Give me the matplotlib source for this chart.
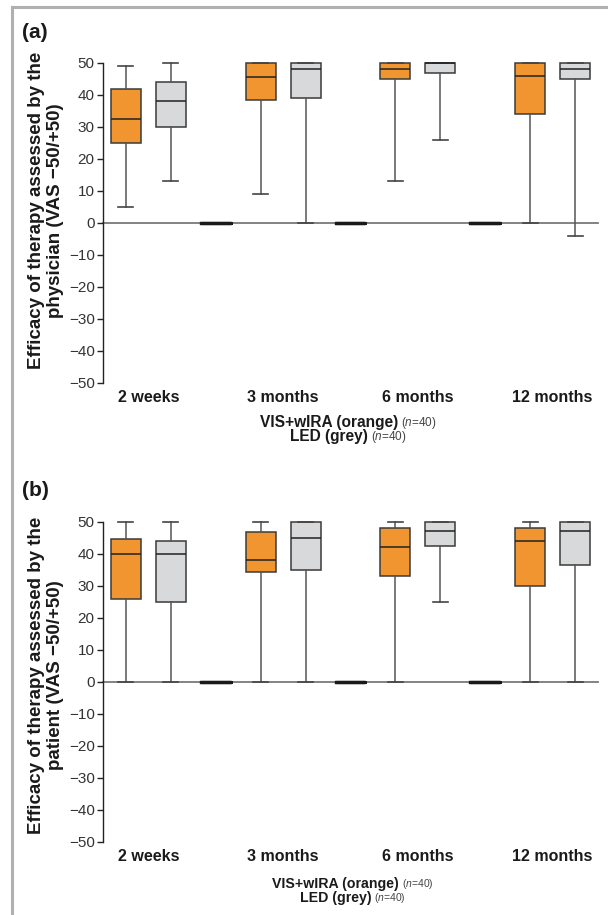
import numpy as np
import matplotlib
matplotlib.use("Agg")
import matplotlib.pyplot as plt
from matplotlib.lines import Line2D

plt.rcParams['font.family'] = ['Liberation Sans', 'DejaVu Sans']
plt.rcParams['mathtext.fontset'] = 'custom'
plt.rcParams['mathtext.it'] = 'Liberation Sans:italic'
plt.rcParams['mathtext.rm'] = 'Liberation Sans'

# time points
groups = ['2 weeks', '3 months', '6 months', '12 months']

# box stats per time point: [min, q1, median, q3, max]
phys_vis = [[5, 25, 32.5, 42, 49], [9, 38.3, 45.5, 50, 50],
            [13, 45, 48, 50, 50], [0, 34, 46, 50, 50]]
phys_led = [[13, 30, 38, 44, 50], [0, 39, 48, 50, 50],
            [26, 47, 50, 50, 50], [-4, 45, 48, 50, 50]]
pat_vis = [[0, 26, 40, 44.6, 50], [0, 34.3, 38, 46.7, 50],
           [0, 33, 42, 48, 50], [0, 30, 44, 48, 50]]
pat_led = [[0, 25, 40, 44, 50], [0, 35, 45, 50, 50],
           [25, 42.5, 47, 50, 50], [0, 36.5, 47, 50, 50]]
spacer = [0, 0, 0, 0, 0]   # empty slot between time points

ylabels = ['Efficacy of therapy assessed by the\nphysician (VAS \u221250/+50)',
           'Efficacy of therapy assessed by the\npatient (VAS \u221250/+50)']

W, H = 608, 915
ORANGE = '#F0952F'
GREY = '#D8D9DB'
EDGE = '#3a3a3a'


def to_stats(rows):
    return [dict(whislo=r[0], q1=r[1], med=r[2], q3=r[3], whishi=r[4], fliers=[]) for r in rows]


def draw_boxes(ax, rows, pos, color):
    ax.bxp(to_stats(rows), positions=pos, widths=0.667, patch_artist=True,
           showfliers=False, manage_ticks=False,
           boxprops=dict(facecolor=color, edgecolor=EDGE, linewidth=1.1),
           medianprops=dict(color='#222222', linewidth=1.1),
           whiskerprops=dict(color='#555555', linewidth=1.1),
           capprops=dict(color='#444444', linewidth=1.2),
           capwidths=0.33)


def two_part(fig, xc, y, bold, small, bsize, ssize):
    t1 = fig.text(0, y, bold, weight='bold', size=bsize, ha='left', va='center', color='#1a1a1a')
    t2 = fig.text(0, y, small, size=ssize, ha='left', va='center', color='#444444')
    r = fig.canvas.get_renderer()
    w1 = t1.get_window_extent(r).width
    w2 = t2.get_window_extent(r).width
    x0 = xc - (w1 + 3 + w2) / 2
    t1.set_x(x0 / W)
    t2.set_x((x0 + w1 + 3) / W)


fig = plt.figure(figsize=(W / 100, H / 100), dpi=100)

panels = [(phys_vis, phys_led, 63, '(a)', 33, 0.54, [395, 423, 437], 11.2, 348),
          (pat_vis, pat_led, 521.7, '(b)', 491, 0.52, [853, 884, 898], 10.2, 353)]

for k, (vis, led, top, tag, tag_y, lab_y, text_y, fsize, xc) in enumerate(panels):
    ax = fig.add_axes([103 / W, 1 - (top + 320) / H, 495 / W, 320 / H])
    n = len(groups)
    pos_vis = [3 * i for i in range(n)]
    pos_led = [3 * i + 1 for i in range(n)]
    pos_sp = [3 * i + 2 for i in range(n - 1)]

    ax.axhline(0, color='#7a7a7a', linewidth=1.3, zorder=0)
    draw_boxes(ax, vis, pos_vis, ORANGE)
    draw_boxes(ax, led, pos_led, GREY)
    ax.bxp(to_stats([spacer] * len(pos_sp)), positions=pos_sp, widths=0.667,
           showfliers=False, manage_ticks=False, showcaps=False,
           boxprops=dict(color='#1a1a1a', linewidth=2.3),
           medianprops=dict(color='#1a1a1a', linewidth=2.3),
           whiskerprops=dict(color='#1a1a1a', linewidth=0))

    for art in ax.lines + ax.patches:
        art.set_clip_on(False)

    ax.set_xlim(-0.51, 10.51)
    ax.set_ylim(-50, 50)
    ax.set_yticks(np.arange(-50, 51, 10))
    ax.set_yticklabels([str(v).replace('-', '\u2212') for v in range(-50, 51, 10)])
    ax.set_xticks([3 * i + 0.5 for i in range(n)])
    ax.set_xticklabels(groups, fontsize=11.5, fontweight='bold', color='#1a1a1a')
    ax.tick_params(axis='x', length=0, pad=5)
    ax.tick_params(axis='y', length=4, width=1, color='#222222', labelsize=11,
                   labelcolor='#333333', pad=2)
    for s in ['top', 'right', 'bottom']:
        ax.spines[s].set_visible(False)
    ax.spines['left'].set_color('#222222')
    ax.spines['left'].set_linewidth(1)

    ax.set_ylabel(ylabels[k], fontsize=13.5, fontweight='bold', color='#1a1a1a',
                  linespacing=1.15)
    ax.yaxis.set_label_coords(-0.078, lab_y)

    fig.text(22 / W, 1 - tag_y / H, tag, fontsize=15, fontweight='bold',
             va='center', ha='left', color='#1a1a1a')

    two_part(fig, xc, 1 - text_y[1] / H, 'VIS+wIRA (orange)', r'($\it{n}$=40)', fsize, fsize - 2.7)
    two_part(fig, xc, 1 - text_y[2] / H, 'LED (grey)', r'($\it{n}$=40)', fsize, fsize - 2.7)

# outer frame (left and top edges visible)
fig.add_artist(Line2D([12 / W, 12 / W], [0, 1 - 7 / H], color='#b0b0b0', linewidth=2.2))
fig.add_artist(Line2D([12 / W, 1], [1 - 7 / H, 1 - 7 / H], color='#b0b0b0', linewidth=2.2))

fig.savefig('out.png', dpi=100)
